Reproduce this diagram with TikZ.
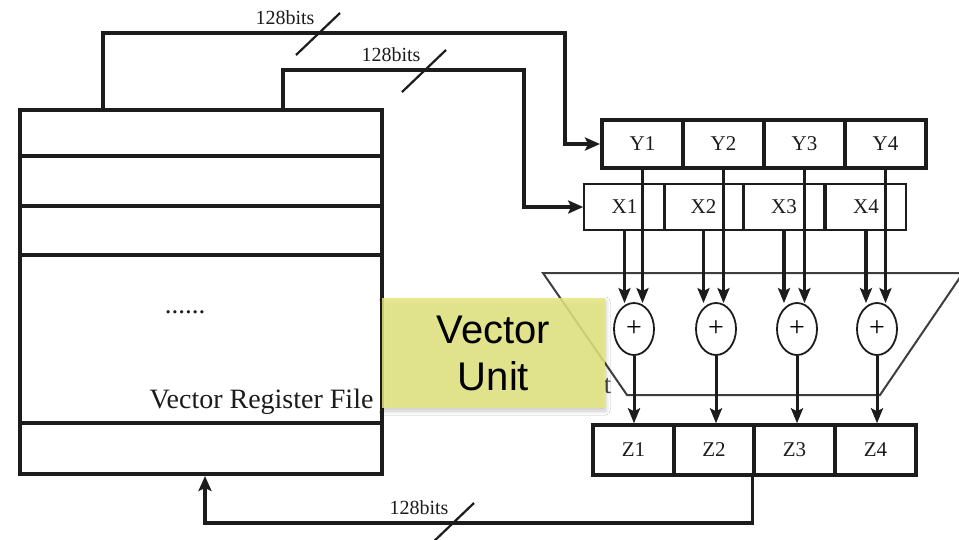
\documentclass[tikz,border=0pt]{standalone}
\usepackage{fontspec}
\setmainfont{Liberation Serif}
\newfontfamily\noteFont{Liberation Sans}
\usepackage{xcolor}
\usepackage{tikz}
\usetikzlibrary{arrows.meta,calc,shapes.geometric,shadows.blur}
\definecolor{dInk}{RGB}{28,28,28}
\definecolor{dNote}{RGB}{230,231,130}
\tikzset{
  regfile/.style={rectangle, draw=dInk, line width=4pt, minimum width=362pt,
                  minimum height=364pt, inner sep=0pt},
  rfline/.style={draw=dInk, line width=4pt},
  cell/.style={rectangle, draw=dInk, minimum height=48pt, minimum width=81pt,
               inner sep=0pt, font=\fontsize{21}{23}\selectfont, text=dInk},
  ycell/.style={cell, line width=4pt},
  xcell/.style={cell, line width=2.6pt, minimum height=46pt},
  zcell/.style={cell, line width=3.4pt, minimum height=50pt},
  adder/.style={ellipse, draw=dInk, line width=1.8pt, minimum width=40pt,
                minimum height=52pt, inner sep=0pt, font=\fontsize{28}{30}\selectfont},
  bus/.style={draw=dInk, line width=3.6pt},
  busarrow/.style={bus, -{Stealth[length=15pt,width=13pt,inset=3pt]}},
  feed/.style={draw=dInk, line width=3.6pt, -{Stealth[length=15pt,width=12pt,inset=3pt]}},
  slash/.style={draw=dInk, line width=2.2pt},
  buslbl/.style={font=\fontsize{20}{22}\selectfont, text=dInk, inner sep=0pt},
  frame/.style={draw=dInk!85, line width=2pt},
  note/.style={rectangle, fill=dNote, fill opacity=0.85, text opacity=1,
               minimum width=223pt, minimum height=110pt, align=center,
               font=\noteFont\fontsize{40}{47}\selectfont,
               blur shadow={shadow xshift=1pt, shadow yshift=-3pt,
                            shadow blur radius=4pt, shadow opacity=25}},
}
\newcommand{\BusMark}[2]{\draw[slash] ($(#1,#2)+(-22,22)$) -- ($(#1,#2)+(22,-20)$);
  \node[buslbl] at ($(#1,#2)+(-33,-15)$) {128bits};}

\begin{document}
\begin{tikzpicture}[x=1pt,y=-1pt]
  \useasboundingbox[fill=white] (0,0) rectangle (959,539);

  % --- register file ---
  \node[regfile, anchor=north west] (rf) at (18,108) {};
  \draw[rfline] (rf.west |- 0,156) -- (rf.east |- 0,156);
  \draw[rfline] (rf.west |- 0,206) -- (rf.east |- 0,206);
  \draw[rfline] (rf.west |- 0,255) -- (rf.east |- 0,255);
  \draw[rfline] (rf.west |- 0,423) -- (rf.east |- 0,423);
  \node[font=\fontsize{27}{30}\selectfont, text=dInk, anchor=base] (dots) at (185,313) {......};
  \node[font=\fontsize{28}{30}\selectfont, text=dInk, anchor=base east] (rflbl) at (377,408) {Vector Register File};

  % --- vector unit frame ---
  \draw[frame] (543,273) -- (963,273) -- (880,395) -- (627,395) -- cycle;
  \node[font=\fontsize{27}{30}\selectfont, text=dInk!80, anchor=base east] (hid) at (615,393) {t};

  % --- operand registers ---
  \node[ycell] (y1) at (642.5,144) {Y1};
  \node[ycell] (y2) at (723.5,144) {Y2};
  \node[ycell] (y3) at (804.5,144) {Y3};
  \node[ycell] (y4) at (885.5,144) {Y4};
  \node[xcell, line width=1.6pt] (x1) at (624.5,207) {X1};
  \node[xcell, minimum width=79pt] (x2) at (703.5,207) {X2};
  \node[xcell, minimum width=80pt] (x3) at (784,207) {X3};
  \node[xcell, minimum width=80pt] (x4) at (866,207) {X4};

  % --- adders ---
  \node[adder] (a1) at (634,329) {+};
  \node[adder] (a2) at (716,329) {+};
  \node[adder] (a3) at (797,329) {+};
  \node[adder] (a4) at (877,329) {+};

  % --- result register ---
  \node[zcell] (z1) at (633.5,450) {Z1};
  \node[zcell, minimum width=80pt] (z2) at (714,450) {Z2};
  \node[zcell] (z3) at (794.5,450) {Z3};
  \node[zcell] (z4) at (875.5,450) {Z4};

  % --- buses from / to the register file ---
  \coordinate (ta) at (103,33);
  \coordinate (ca) at (565,144);
  \coordinate (tb) at (283,70);
  \coordinate (cb) at (524,207);
  \coordinate (wb) at (205,523);
  \draw[busarrow] (rf.north -| ta) -- (ta) -| (ca) -- (y1.west);
  \draw[busarrow] (rf.north -| tb) -- (tb) -| (cb) -- (x1.west);
  \draw[busarrow] (z3.south west) |- (wb) -- (wb |- rf.south);
  \BusMark{318}{33}
  \BusMark{424}{70}
  \BusMark{452}{523}

  % --- operands into the adders ---
  \draw[feed] (x1.south) -- ([yshift=-1pt]x1.south |- a1.north);
  \draw[feed] (y1.south) -- ([yshift=-1pt]y1.south |- a1.north);
  \draw[feed] (x2.south) -- ([yshift=-1pt]x2.south |- a2.north);
  \draw[feed] (y2.south) -- ([yshift=-1pt]y2.south |- a2.north);
  \draw[feed] (x3.south) -- ([yshift=-1pt]x3.south |- a3.north);
  \draw[feed] (y3.south) -- ([yshift=-1pt]y3.south |- a3.north);
  \draw[feed] (x4.south) -- ([yshift=-1pt]x4.south |- a4.north);
  \draw[feed] (y4.south) -- ([yshift=-1pt]y4.south |- a4.north);

  % --- sums into Z ---
  \draw[feed, line width=3pt] (a1.south) -- (a1.south |- z1.north);
  \draw[feed, line width=3pt] (a2.south) -- (a2.south |- z2.north);
  \draw[feed, line width=3pt] (a3.south) -- (a3.south |- z3.north);
  \draw[feed, line width=3pt] (a4.south) -- (a4.south |- z4.north);

  % --- callout ---
  \node[note] (vu) at (493.5,353) {Vector\\Unit};
\end{tikzpicture}
\end{document}
